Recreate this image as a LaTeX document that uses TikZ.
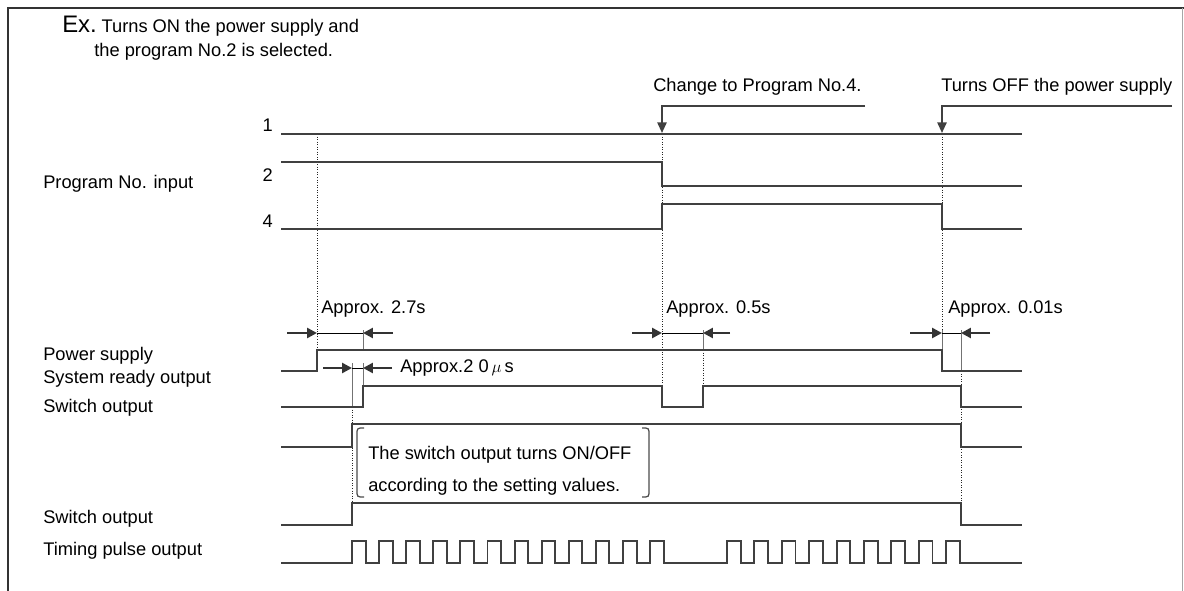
\documentclass[tikz,border=0pt]{standalone}
\usepackage{fontspec}
\setmainfont{Liberation Sans}
\usepackage{tikz}
\usetikzlibrary{arrows.meta,positioning,calc}

\begin{document}
\begin{tikzpicture}[x=0.025cm, y=-0.025cm,
    every node/.style={font=\fontsize{13}{15}\selectfont, inner sep=0pt},
    sig/.style={draw=black!75, line width=1.4pt},
    guide/.style={draw=black!85, line width=0.7pt, dash pattern=on 0.7pt off 1.1pt},
    tickline/.style={draw=black!55, line width=0.7pt},
    dimline/.style={draw=black, line width=0.6pt},
    dimarrow/.style={draw=black!80, line width=2pt, -{Triangle[length=7pt,width=7pt]}},
    callout/.style={draw=black!75, line width=1.4pt, -{Triangle[length=7.5pt,width=6.5pt]}},
    bracket/.style={draw=black!70, line width=0.9pt}]

    \useasboundingbox (0,0) rectangle (1184,591);

    % Frame
    \draw[black!80, line width=1.6pt] (8,591) -- (8,8) -- (1184,8);
    \draw[black!35, line width=0.6pt] (1182,8) -- (1182,591);

    % Example text
    \node[anchor=base west, font=\fontsize{17}{20}\selectfont] (ex) at (62,33) {Ex.};
    \node[anchor=base west] (exline1) at ([xshift=3pt]ex.base east) {Turns ON the power supply and};
    \node[anchor=base west] (exline2) at (94,57) {the program No.2 is selected.};

    % Row labels
    \node[anchor=west] (prog) at (43,184) {Program No. input};
    \node[anchor=east] (in1) at (273,125) {1};
    \node[anchor=east] (in2) at (273,175) {2};
    \node[anchor=east] (in4) at (273,221) {4};
    \node[anchor=west] (pwr) at (43,356) {Power supply};
    \node[anchor=west] (ready) at (43,379) {System ready output};
    \node[anchor=west] (sw1) at (43,408) {Switch output};
    \node[anchor=west] (sw2) at (43,519) {Switch output};
    \node[anchor=west] (pulse) at (43,551) {Timing pulse output};

    % Events
    \node[anchor=west] (chg) at (653,87) {Change to Program No.4.};
    \node[anchor=west] (off) at (941,87) {Turns OFF the power supply};
    \coordinate (chgtail) at (865,106);
    \coordinate (chgtip) at (662,133);
    \coordinate (offtail) at (1172,106);
    \coordinate (offtip) at (942,133);
    \draw[callout] (chgtail) -| (chgtip);
    \draw[callout] (offtail) -| (offtip);

    % Guides
    \draw[guide] (317,134) -- (317,350);
    \draw[guide] (662,134) -- (662,386);
    \draw[guide] (703,350) -- (703,386);
    \draw[guide] (942,134) -- (942,330);
    \draw[guide] (961,371) -- (961,525);
    \draw[guide] (352,407) -- (352,503);

    % Ticks
    \draw[tickline] (363,330) -- (363,350);
    \draw[tickline] (352,363) -- (352,407);
    \draw[tickline] (363,363) -- (363,386);
    \draw[tickline] (703,330) -- (703,350);
    \draw[tickline] (942,330) -- (942,350);
    \draw[tickline] (961,330) -- (961,371);

    % Intervals
    \draw[dimline] (317,333) -- (363,333);
    \draw[dimline] (352,368) -- (363,368);
    \draw[dimline] (662,333) -- (703,333);
    \draw[dimline] (942,333) -- (961,333);
    \draw[dimarrow] (287,333) -- (317,333);
    \draw[dimarrow] (393,333) -- (363,333);
    \draw[dimarrow] (323,368) -- (352,368);
    \draw[dimarrow] (392,368) -- (363,368);
    \draw[dimarrow] (632,333) -- (662,333);
    \draw[dimarrow] (730,333) -- (703,333);
    \draw[dimarrow] (910,333) -- (942,333);
    \draw[dimarrow] (990,333) -- (961,333);
    \node[anchor=west] (t27) at (321,309) {Approx. 2.7s};
    \node[anchor=west] (t20) at (400,368) {Approx.2 0\,$\mu$\,s};
    \node[anchor=west] (t05) at (666,309) {Approx. 0.5s};
    \node[anchor=west] (t001) at (948,309) {Approx. 0.01s};

    % Program No. input
    \draw[sig] (281,134) -- (1022,134);
    \draw[sig] (281,162) -- (662,162) -- (662,186) -- (1022,186);
    \draw[sig] (281,229) -- (662,229) -- (662,204) -- (942,204) -- (942,229) -- (1022,229);

    % Outputs
    \draw[sig] (281,371) -- (317,371) -- (317,350) -- (942,350) -- (942,371) -- (1022,371);
    \draw[sig] (281,407) -- (363,407) -- (363,386) -- (662,386) -- (662,407) -- (703,407)
        -- (703,386) -- (961,386) -- (961,407) -- (1022,407);
    \draw[sig] (281,447) -- (352,447) -- (352,424) -- (961,424) -- (961,447) -- (1022,447);
    \draw[sig] (281,525) -- (352,525) -- (352,503) -- (961,503) -- (961,525) -- (1022,525);
    \draw[sig] (281,563) -- (352,563)
        \foreach \i in {1,...,12}{ -- ++(0,-22) -- ++(13.55,0) -- ++(0,22) -- ++(13.55,0) }
        -- (727,563)
        \foreach \i in {1,...,9}{ -- ++(0,-22) -- ++(13.7,0) -- ++(0,22) -- ++(13.7,0) }
        -- (1022,563);

    % Note
    \draw[bracket] (364,428) .. controls (357,428) .. (357,435) -- (357,490) .. controls (357,497) .. (364,497);
    \draw[bracket] (642,428) .. controls (649,428) .. (649,435) -- (649,490) .. controls (649,497) .. (642,497);
    \node[anchor=west] (note1) at (368,455) {The switch output turns ON/OFF};
    \node[anchor=west] (note2) at (368,487) {according to the setting values.};

\end{tikzpicture}
\end{document}
